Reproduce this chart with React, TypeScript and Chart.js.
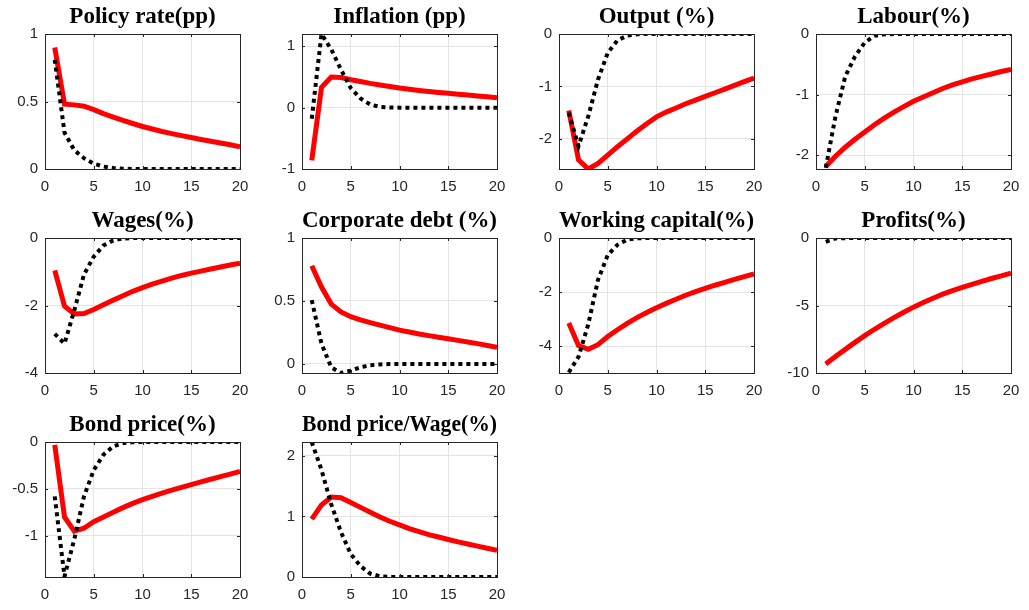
import React, { useEffect, useRef } from "react";
import { Chart, registerables } from "chart.js";

Chart.register(...registerables);

// ---- data ----
const steps = [1, 2, 3, 4, 5, 6, 7, 8, 9, 10, 11, 12, 13, 14, 15, 16, 17, 18, 19, 20];
const xTickValues = [0, 5, 10, 15, 20];

const policyRed = [0.9, 0.48, 0.475, 0.465, 0.44, 0.41, 0.385, 0.36, 0.337, 0.315, 0.296, 0.278, 0.262, 0.247, 0.233, 0.219, 0.205, 0.192, 0.179, 0.165];
const policyBlack = [0.81, 0.27, 0.14, 0.08, 0.04, 0.018, 0.007, 0.002, 0, 0, 0, 0, 0, 0, 0, 0, 0, 0, 0, 0];
const policyTicks = [0, 0.5, 1];

const inflationRed = [-0.86, 0.33, 0.5, 0.49, 0.455, 0.425, 0.395, 0.37, 0.345, 0.32, 0.3, 0.281, 0.264, 0.248, 0.234, 0.219, 0.205, 0.191, 0.178, 0.16];
const inflationBlack = [-0.18, 1.2, 0.95, 0.62, 0.32, 0.15, 0.05, 0.012, 0.002, 0, 0, 0, 0, 0, 0, 0, 0, 0, 0, 0];
const inflationTicks = [-1, 0, 1];

const outputRed = [-1.46, -2.4, -2.575, -2.47, -2.31, -2.15, -2.0, -1.85, -1.71, -1.58, -1.49, -1.41, -1.33, -1.26, -1.19, -1.12, -1.05, -0.98, -0.91, -0.84];
const outputBlack = [-1.5, -2.14, -1.57, -0.87, -0.36, -0.12, -0.03, -0.005, 0, 0, 0, 0, 0, 0, 0, 0, 0, 0, 0, 0];
const outputTicks = [-2, -1, 0];

const labourRed = [-2.19, -2.02, -1.87, -1.74, -1.62, -1.5, -1.39, -1.29, -1.2, -1.11, -1.04, -0.97, -0.9, -0.84, -0.79, -0.74, -0.7, -0.66, -0.62, -0.585];
const labourBlack = [-2.21, -1.36, -0.7, -0.37, -0.14, -0.03, -0.005, 0, 0, 0, 0, 0, 0, 0, 0, 0, 0, 0, 0, 0];
const labourTicks = [-2, -1, 0];

const wagesRed = [-0.96, -2.02, -2.25, -2.24, -2.12, -1.98, -1.84, -1.71, -1.58, -1.47, -1.37, -1.28, -1.19, -1.11, -1.04, -0.98, -0.92, -0.86, -0.8, -0.75];
const wagesBlack = [-2.84, -3.13, -2.15, -1.08, -0.55, -0.22, -0.07, -0.015, 0, 0, 0, 0, 0, 0, 0, 0, 0, 0, 0, 0];
const wagesTicks = [-4, -2, 0];

const debtRed = [0.78, 0.61, 0.475, 0.413, 0.375, 0.35, 0.328, 0.308, 0.288, 0.268, 0.253, 0.238, 0.225, 0.212, 0.2, 0.187, 0.174, 0.161, 0.147, 0.133];
const debtBlack = [0.507, 0.16, -0.027, -0.072, -0.053, -0.027, -0.01, -0.004, -0.001, 0, 0, 0, 0, 0, 0, 0, 0, 0, 0, 0];
const debtTicks = [0, 0.5, 1];

const capitalRed = [-3.15, -3.98, -4.12, -3.95, -3.65, -3.4, -3.16, -2.95, -2.76, -2.58, -2.42, -2.27, -2.12, -1.99, -1.87, -1.75, -1.64, -1.53, -1.43, -1.33];
const capitalBlack = [-4.98, -4.4, -3.2, -1.55, -0.63, -0.25, -0.06, -0.01, 0, 0, 0, 0, 0, 0, 0, 0, 0, 0, 0, 0];
const capitalTicks = [-4, -2, 0];

const profitsRed = [-9.33, -8.78, -8.25, -7.73, -7.23, -6.76, -6.32, -5.9, -5.5, -5.12, -4.78, -4.46, -4.16, -3.9, -3.66, -3.43, -3.21, -3.0, -2.8, -2.61];
const profitsBlack = [-0.28, -0.03, -0.01, 0, 0, 0, 0, 0, 0, 0, 0, 0, 0, 0, 0, 0, 0, 0, 0, 0];
const profitsTicks = [-10, -5, 0];

const bondRed = [-0.03, -0.8, -0.95, -0.92, -0.85, -0.8, -0.75, -0.7, -0.655, -0.615, -0.58, -0.545, -0.513, -0.483, -0.455, -0.425, -0.397, -0.37, -0.343, -0.315];
const bondBlack = [-0.58, -1.435, -1.04, -0.58, -0.3, -0.135, -0.046, -0.012, -0.002, 0, 0, 0, 0, 0, 0, 0, 0, 0, 0, 0];
const bondTicks = [-1, -0.5, 0];

const bondWageRed = [0.955, 1.19, 1.32, 1.31, 1.23, 1.15, 1.07, 0.99, 0.92, 0.86, 0.8, 0.75, 0.7, 0.66, 0.62, 0.58, 0.545, 0.51, 0.475, 0.44];
const bondWageBlack = [2.23, 1.77, 1.2, 0.74, 0.38, 0.18, 0.055, 0.012, 0.002, 0, 0, 0, 0, 0, 0, 0, 0, 0, 0, 0];
const bondWageTicks = [0, 1, 2];

type PanelDef = {
  title: string;
  red: number[];
  black: number[];
  yTicks: number[];
  yMin: number;
  yMax: number;
  col: number;
  row: number;
};

const panels: PanelDef[] = [
  { title: "Policy rate(pp)", red: policyRed, black: policyBlack, yTicks: policyTicks, yMin: 0, yMax: 1, col: 0, row: 0 },
  { title: "Inflation (pp)", red: inflationRed, black: inflationBlack, yTicks: inflationTicks, yMin: -1, yMax: 1.2, col: 1, row: 0 },
  { title: "Output (%)", red: outputRed, black: outputBlack, yTicks: outputTicks, yMin: -2.575, yMax: 0, col: 2, row: 0 },
  { title: "Labour(%)", red: labourRed, black: labourBlack, yTicks: labourTicks, yMin: -2.23, yMax: 0, col: 3, row: 0 },
  { title: "Wages(%)", red: wagesRed, black: wagesBlack, yTicks: wagesTicks, yMin: -4, yMax: 0, col: 0, row: 1 },
  { title: "Corporate debt (%)", red: debtRed, black: debtBlack, yTicks: debtTicks, yMin: -0.072, yMax: 1, col: 1, row: 1 },
  { title: "Working capital(%)", red: capitalRed, black: capitalBlack, yTicks: capitalTicks, yMin: -5, yMax: 0, col: 2, row: 1 },
  { title: "Profits(%)", red: profitsRed, black: profitsBlack, yTicks: profitsTicks, yMin: -10, yMax: 0, col: 3, row: 1 },
  { title: "Bond price(%)", red: bondRed, black: bondBlack, yTicks: bondTicks, yMin: -1.44, yMax: 0, col: 0, row: 2 },
  { title: "Bond price/Wage(%)", red: bondWageRed, black: bondWageBlack, yTicks: bondWageTicks, yMin: 0, yMax: 2.23, col: 1, row: 2 },
];

// ---- layout ----
const COL_LEFT = [45, 302, 559, 816];
const ROW_TOP = [34, 238, 442];
const PLOT_W = 195;
const PLOT_H = 135;
const Y_AXIS_W = 45;
const TITLE_H = 34;
const X_AXIS_H = 30;
const RIGHT_PAD = 20;
const CANVAS_W = Y_AXIS_W + PLOT_W + RIGHT_PAD;
const CANVAS_H = TITLE_H + PLOT_H + X_AXIS_H;

const AXIS_COLOR = "#262626";
const GRID_COLOR = "#e4e4e4";
const TICK_FONT = { family: '"Liberation Sans", Arial, sans-serif', size: 15 };

const framePlugin = {
  id: "matlabFrame",
  afterDatasetsDraw(chart: any) {
    const { ctx, chartArea: a, scales } = chart;
    ctx.save();
    ctx.strokeStyle = AXIS_COLOR;
    ctx.lineWidth = 1;
    ctx.beginPath();
    const len = 3;
    for (const t of scales.x.ticks) {
      const px = Math.round(scales.x.getPixelForValue(t.value)) + 0.5;
      ctx.moveTo(px, a.bottom);
      ctx.lineTo(px, a.bottom - len);
      ctx.moveTo(px, a.top);
      ctx.lineTo(px, a.top + len);
    }
    for (const t of scales.y.ticks) {
      const py = Math.round(scales.y.getPixelForValue(t.value)) + 0.5;
      ctx.moveTo(a.left, py);
      ctx.lineTo(a.left + len, py);
      ctx.moveTo(a.right, py);
      ctx.lineTo(a.right - len, py);
    }
    ctx.stroke();
    ctx.strokeRect(a.left + 0.5, a.top + 0.5, a.right - a.left, a.bottom - a.top);
    ctx.restore();
  },
};

function ChartPanel({ p }: { p: PanelDef }) {
  const ref = useRef<HTMLCanvasElement | null>(null);
  useEffect(() => {
    if (!ref.current) return;
    const chart = new Chart(ref.current, {
      type: "line",
      data: {
        datasets: [
          {
            data: steps.map((x, i) => ({ x, y: p.black[i] })),
            borderColor: "#000000",
            borderWidth: 4,
            borderDash: [4, 4],
            borderCapStyle: "butt",
            pointRadius: 0,
            tension: 0,
            fill: false,
          },
          {
            data: steps.map((x, i) => ({ x, y: p.red[i] })),
            borderColor: "#ff0000",
            borderWidth: 5,
            pointRadius: 0,
            tension: 0,
            fill: false,
          },
        ],
      },
      options: {
        responsive: false,
        animation: false,
        events: [],
        layout: { padding: { left: 0, right: RIGHT_PAD, top: 0, bottom: 0 } },
        plugins: {
          legend: { display: false },
          tooltip: { enabled: false },
          title: {
            display: true,
            text: p.title,
            fullSize: false,
            color: "#000000",
            font: { family: '"Liberation Serif", "Times New Roman", serif', size: 23, weight: "bold", lineHeight: "27px" },
            padding: { top: 4, bottom: 3 },
          },
        },
        scales: {
          x: {
            type: "linear",
            min: 0,
            max: 20,
            afterBuildTicks: (s: any) => {
              s.ticks = xTickValues.map((v) => ({ value: v }));
            },
            afterFit: (s: any) => {
              s.height = X_AXIS_H;
            },
            grid: { color: GRID_COLOR, drawTicks: false },
            border: { display: false },
            ticks: {
              padding: 9,
              color: AXIS_COLOR,
              font: TICK_FONT,
              maxRotation: 0,
              autoSkip: false,
              callback: (v: any) => String(v),
            },
          },
          y: {
            type: "linear",
            min: p.yMin,
            max: p.yMax,
            afterBuildTicks: (s: any) => {
              s.ticks = p.yTicks.map((v) => ({ value: v }));
            },
            afterFit: (s: any) => {
              s.width = Y_AXIS_W;
            },
            grid: { color: GRID_COLOR, drawTicks: false },
            border: { display: false },
            ticks: {
              padding: 7,
              color: AXIS_COLOR,
              font: TICK_FONT,
              autoSkip: false,
              callback: (v: any) => String(v),
            },
          },
        },
      },
      plugins: [framePlugin],
    } as any);
    return () => chart.destroy();
  }, [p]);

  return (
    <canvas
      ref={ref}
      width={CANVAS_W}
      height={CANVAS_H}
      style={{
        position: "absolute",
        left: COL_LEFT[p.col] - Y_AXIS_W,
        top: ROW_TOP[p.row] - TITLE_H,
        width: CANVAS_W,
        height: CANVAS_H,
      }}
    />
  );
}

export default function App() {
  return (
    <div
      style={{
        position: "absolute",
        left: 0,
        top: 0,
        width: 1029,
        height: 610,
        overflow: "hidden",
        background: "#ffffff",
      }}
    >
      {panels.map((p) => (
        <ChartPanel key={p.title} p={p} />
      ))}
    </div>
  );
}
